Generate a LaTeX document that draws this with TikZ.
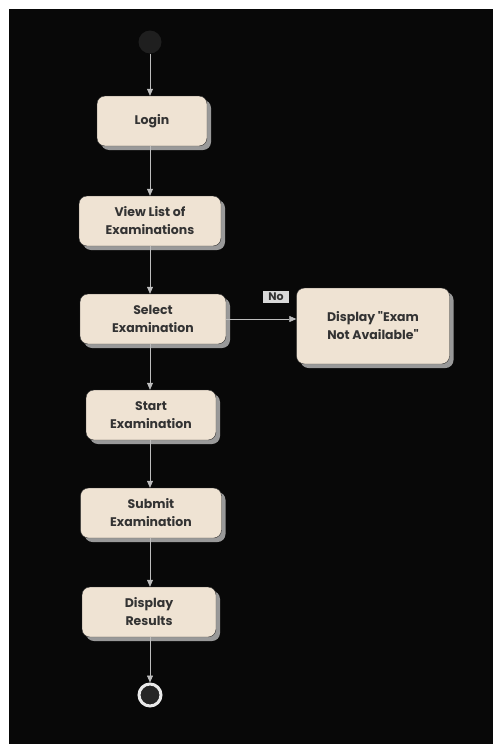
\documentclass[tikz,border=0pt]{standalone}
\usepackage{fontspec}
\setmainfont{Poppins}
\usetikzlibrary{shadows}
\usetikzlibrary{arrows.meta}
\definecolor{actfill}{HTML}{EFE3D3}
\definecolor{acttext}{HTML}{333333}
\definecolor{flowline}{HTML}{BDBDBD}
\tikzstyle{action}=[draw=black!80, fill=actfill, rounded corners=8pt, thin,
  minimum height=50pt, align=center, text=acttext,
  font=\fontsize{12.5}{18}\selectfont\bfseries,
  drop shadow={shadow xshift=4pt, shadow yshift=-4pt, fill=black!40, opacity=1}]
\tikzstyle{flow}=[semithick, draw=flowline, -{Triangle[length=7pt, width=6pt]}]

\begin{document}
\begin{tikzpicture}[x=1pt, y=-1pt]
          \useasboundingbox[fill=white] (0, 0) rectangle (493, 744);
          \fill[black!97] (9, 9) rectangle (493, 744);

          \node[circle, fill=black!88, minimum size=23pt, inner sep=0] (start) at (150, 42) {};
          \node[action, minimum width=110pt] (login) at (152, 121) {Login};
          \node[action, minimum width=142pt] (view) at (150, 221) {View List of\\Examinations};
          \node[action, minimum width=146pt] (select) at (153, 319) {Select\\Examination};
          \node[action, minimum width=153pt, minimum height=76pt] (notavail) at (373, 326)
            {Display \textquotedbl Exam\\Not Available\textquotedbl};
          \node[action, minimum width=130pt] (begin) at (151, 415) {Start\\Examination};
          \node[action, minimum width=141pt] (submit) at (151, 513) {Submit\\Examination};
          \node[action, minimum width=134pt] (results) at (149, 612) {Display\\Results};
          \node[circle, draw=white!92!black, line width=3pt, fill=black!85, minimum size=22pt,
            inner sep=0] (stop) at (150, 695) {};

          \draw[flow] (start) -- (start |- login.north);
          \draw[flow] (start |- login.south) -- (start |- view.north);
          \draw[flow] (start |- view.south) -- (start |- select.north);
          \draw[flow] (select.east) -- (select.east -| notavail.west);
          \draw[flow] (start |- select.south) -- (start |- begin.north);
          \draw[flow] (start |- begin.south) -- (start |- submit.north);
          \draw[flow] (start |- submit.south) -- (start |- results.north);
          \draw[flow] (start |- results.south) -- (stop);

          \node[fill=white!85!black, text=acttext, inner sep=2pt, minimum width=26pt,
            font=\fontsize{11}{13}\selectfont\bfseries] (no) at (276, 297) {No};
        \end{tikzpicture}
\end{document}
